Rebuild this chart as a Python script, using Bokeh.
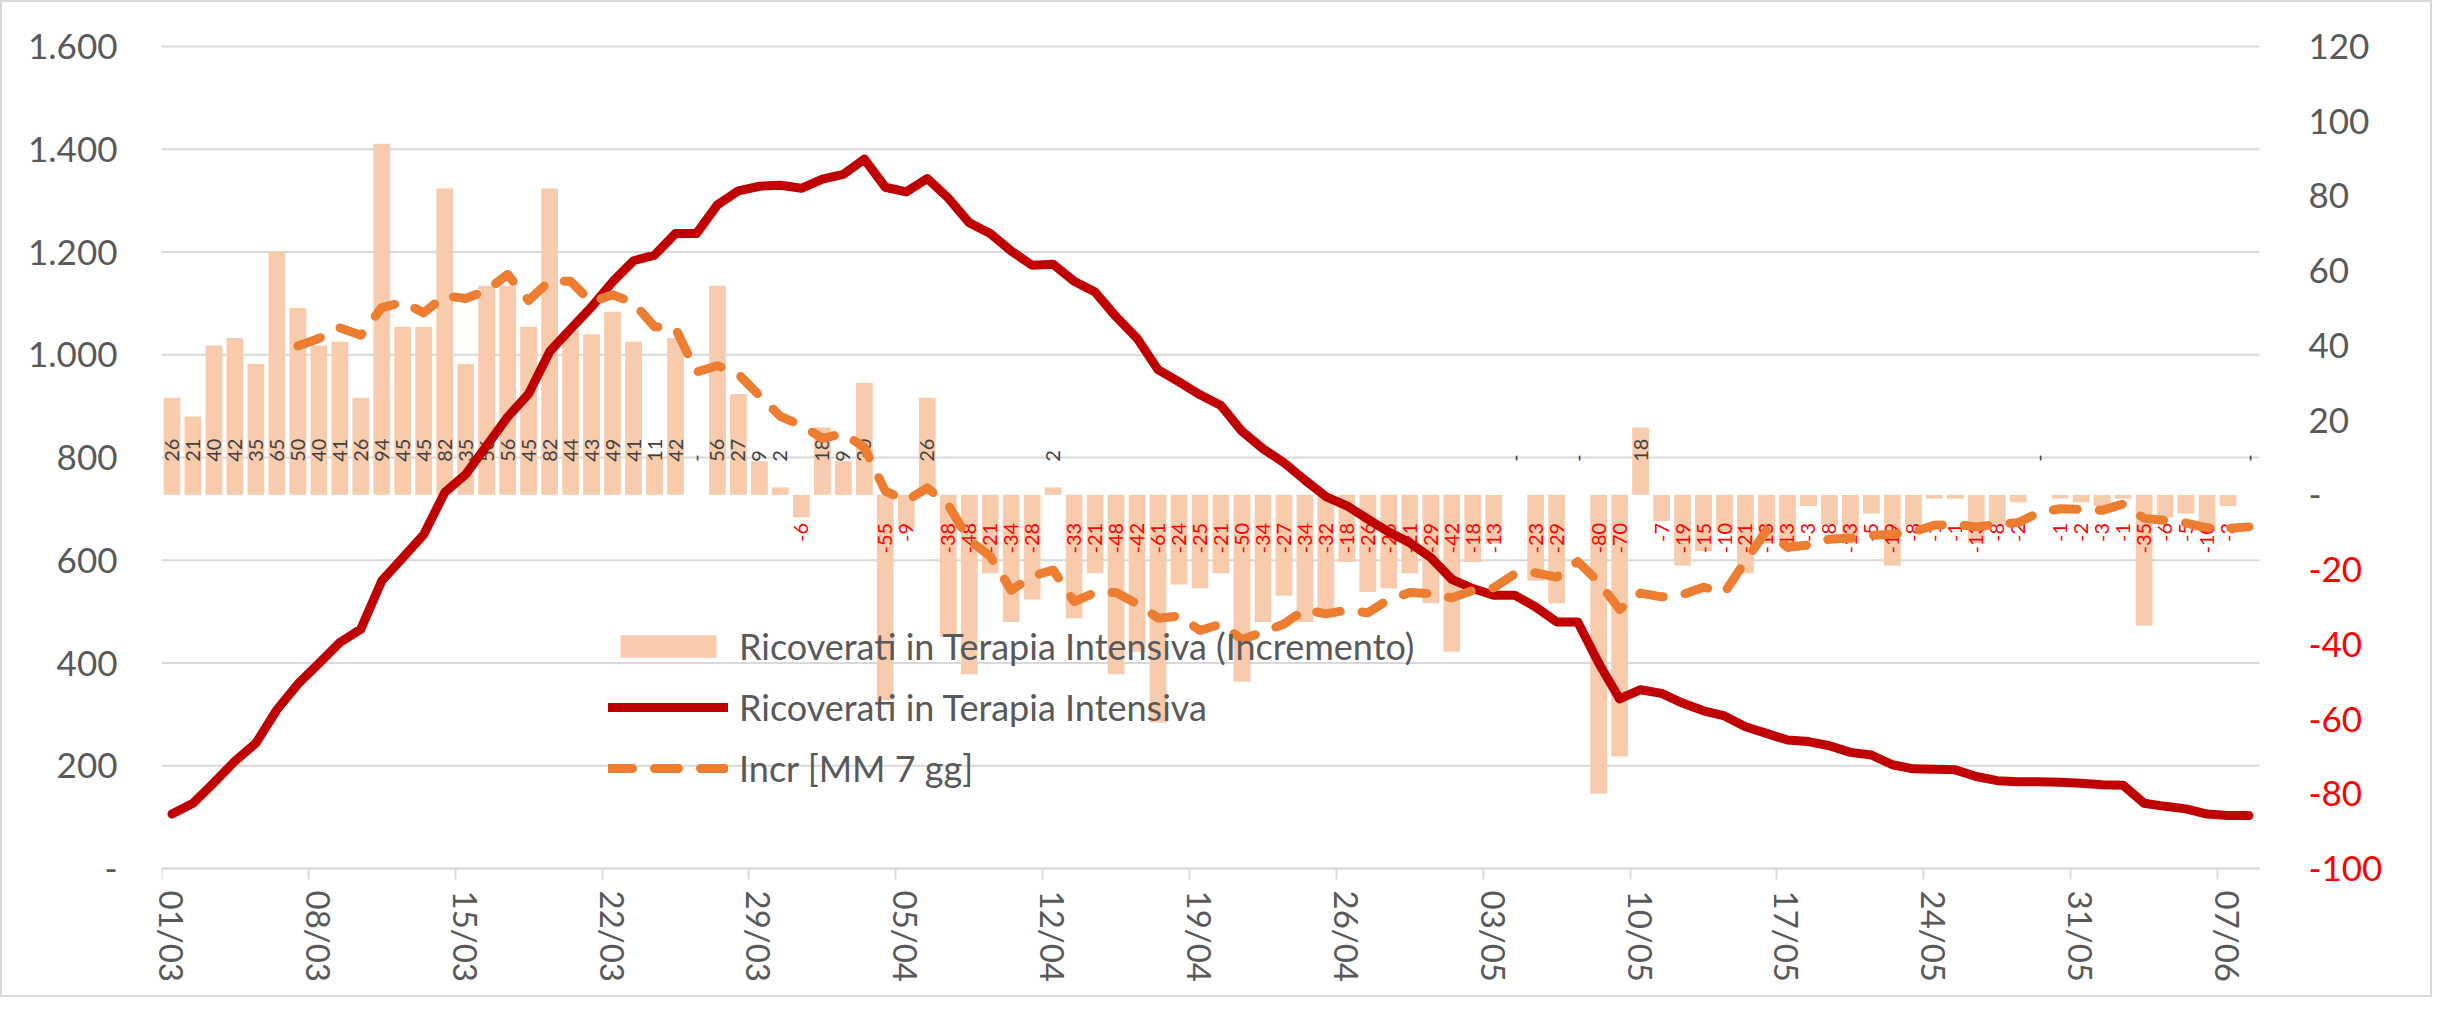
import math
import pandas as pd
from bokeh.plotting import figure
from bokeh.models import (Range1d, LinearAxis, FixedTicker, ColumnDataSource,
                          Legend, LegendItem)
from bokeh.embed import file_html
from bokeh.resources import INLINE
from bokeh.core.properties import value

# ---------------- data ----------------
dates = list(pd.date_range("2020-03-01", periods=100).strftime("%d/%m"))

incremento = [26, 21, 40, 42, 35, 65, 50, 40, 41, 26,
              94, 45, 45, 82, 35, 56, 56, 45, 82, 44,
              43, 49, 41, 11, 42, 0, 56, 27, 9, 2,
              -6, 18, 9, 30, -55, -9, 26, -38, -48, -21,
              -34, -28, 2, -33, -21, -48, -42, -61, -24, -25,
              -21, -50, -34, -27, -34, -32, -18, -26, -25, -21,
              -29, -42, -18, -13, 0, -23, -29, 0, -80, -70,
              18, -7, -19, -15, -10, -21, -13, -13, -3, -8,
              -13, -5, -19, -8, -1, -1, -13, -8, -2, 0,
              -1, -2, -3, -1, -35, -6, -5, -10, -3, 0]

ricoverati = [106, 127, 167, 209, 244, 309, 359, 399, 440, 466,
              560, 605, 650, 732, 767, 823, 879, 924, 1006, 1050,
              1093, 1142, 1183, 1194, 1236, 1236, 1292, 1319, 1328, 1330,
              1324, 1342, 1351, 1381, 1326, 1317, 1343, 1305, 1257, 1236,
              1202, 1174, 1176, 1143, 1122, 1074, 1032, 971, 947, 922,
              901, 851, 817, 790, 756, 724, 706, 680, 655, 634,
              605, 563, 545, 532, 532, 509, 480, 480, 400, 330,
              348, 341, 322, 307, 297, 276, 263, 250, 247, 239,
              226, 221, 202, 194, 193, 192, 179, 171, 169, 169,
              168, 166, 163, 162, 127, 121, 116, 106, 103, 103]

nan = float("nan")
mm7 = [nan, nan, nan, nan, nan, nan,
       39.86, 41.86, 44.71, 42.71, 50.14, 51.57, 48.71, 53.29, 52.57, 54.71,
       59.00, 52.00, 57.29, 57.14, 51.57, 53.57, 51.43, 45.00, 44.57, 32.86,
       34.57, 32.29, 26.57, 21.00, 18.57, 15.14, 16.43, 12.71, 1.00, -1.57,
       1.86, -2.71, -12.14, -16.43, -25.57, -21.71, -20.14, -28.57, -26.14, -26.14,
       -29.14, -33.00, -32.43, -36.29, -34.57, -38.71, -36.71, -34.57, -30.71, -31.86,
       -30.86, -31.57, -28.00, -26.14, -26.43, -27.57, -25.57, -24.86, -21.14, -20.86,
       -22.00, -17.86, -23.29, -30.71, -26.29, -27.29, -26.71, -24.71, -26.14, -17.71,
       -9.57, -14.00, -13.43, -11.86, -11.57, -10.86, -10.57, -9.86, -8.14, -7.86,
       -8.57, -7.86, -7.43, -4.71, -3.71, -3.86, -4.14, -2.43, -6.29, -6.86,
       -7.57, -8.86, -9.00, -8.57]

left_ticks = [0, 200, 400, 600, 800, 1000, 1200, 1400, 1600]
left_tick_labels = ["-", "200", "400", "600", "800", "1.000", "1.200", "1.400", "1.600"]
right_ticks = [-100, -80, -60, -40, -20, 0, 20, 40, 60, 80, 100, 120]
right_tick_labels = ["-100", "-80", "-60", "-40", "-20", "-", "20", "40", "60", "80", "100", "120"]
date_tick_positions = list(range(0, 100, 7))
date_tick_labels = ["01/03", "08/03", "15/03", "22/03", "29/03", "05/04", "12/04", "19/04",
                    "26/04", "03/05", "10/05", "17/05", "24/05", "31/05", "07/06"]

# ---------------- styles / layout ----------------
FONT = "Lato"
GREY_TXT = "#595959"
GRID = "#D9D9D9"
BAR = "#F8CBAD"
RED_LINE = "#C00000"
ORANGE = "#ED7D31"
TICK_SIZE = "35px"

W, H = 2432, 997
B_LEFT, B_RIGHT, B_TOP, B_BOTTOM = 159, 20, 22, 109
PAD = 22                      # px of frame above the top / below the bottom gridline
PX_PER_DAY = 20.98

x = list(range(len(dates)))
x_start = -0.5
x_end_data = len(dates) - 0.5
x_end_view = x_start + (W - B_LEFT - B_RIGHT) / PX_PER_DAY   # room for right-hand labels

inner_h = H - B_TOP - B_BOTTOM - 2 * PAD
y1_lo, y1_hi = left_ticks[0], left_ticks[-1]
y2_lo, y2_hi = right_ticks[0], right_ticks[-1]
pad1 = PAD * (y1_hi - y1_lo) / inner_h
pad2 = PAD * (y2_hi - y2_lo) / inner_h

p = figure(width=W, height=H, output_backend="svg", toolbar_location=None,
           x_range=Range1d(x_start, x_end_view), y_range=Range1d(y1_lo - pad1, y1_hi + pad1),
           x_axis_type=None, y_axis_type=None)
p.extra_y_ranges = {"incr": Range1d(y2_lo - pad2, y2_hi + pad2)}
p.min_border_left = B_LEFT
p.min_border_right = B_RIGHT
p.min_border_top = B_TOP
p.min_border_bottom = B_BOTTOM
p.outline_line_color = None
p.background_fill_color = "white"
p.border_fill_color = "white"
p.styles = {"border": "2px solid #D9D9D9"}

# horizontal gridlines (primary axis ticks), limited to the data area
p.segment(x0=[x_start] * len(left_ticks), x1=[x_end_data] * len(left_ticks),
          y0=left_ticks, y1=left_ticks, line_color=GRID, line_width=2, level="underlay")

# left axis
yaxis = LinearAxis(ticker=FixedTicker(ticks=left_ticks),
                   major_label_overrides=dict(zip(left_ticks, left_tick_labels)))
yaxis.axis_line_color = None
yaxis.major_tick_line_color = None
yaxis.minor_tick_line_color = None
yaxis.major_label_text_font = FONT
yaxis.major_label_text_font_size = TICK_SIZE
yaxis.major_label_text_color = GREY_TXT
yaxis.major_label_standoff = 38
p.add_layout(yaxis, "left")

# x axis: line at zero with tick marks at slot boundaries
tick_axis = LinearAxis(ticker=FixedTicker(ticks=[t - 0.5 for t in date_tick_positions]),
                       major_label_overrides={t - 0.5: "" for t in date_tick_positions},
                       bounds=(x_start, x_end_data), fixed_location=y1_lo)
tick_axis.axis_line_color = GRID
tick_axis.axis_line_width = 2
tick_axis.major_tick_line_color = GRID
tick_axis.major_tick_line_width = 2
tick_axis.major_tick_out = 11
tick_axis.major_tick_in = 0
tick_axis.minor_tick_line_color = None
tick_axis.major_label_text_font_size = "0px"
tick_axis.major_label_standoff = 0
p.add_layout(tick_axis, "below")

# x axis: labels at slot centres
label_axis = LinearAxis(ticker=FixedTicker(ticks=date_tick_positions),
                        major_label_overrides=dict(zip(date_tick_positions, date_tick_labels)))
label_axis.axis_line_color = None
label_axis.major_tick_line_color = None
label_axis.minor_tick_line_color = None
label_axis.major_tick_out = 0
label_axis.major_tick_in = 0
label_axis.major_label_orientation = "vertical"
label_axis.major_label_text_font = FONT
label_axis.major_label_text_font_size = "33px"
label_axis.major_label_text_color = GREY_TXT
label_axis.major_label_standoff = 0
p.add_layout(label_axis, "below")

# bars
bars = p.vbar(x=x, top=incremento, bottom=0, width=0.8, y_range_name="incr",
              fill_color=BAR, line_color=None)

# bar labels
pos_src = ColumnDataSource(dict(
    x=[i for i, v in zip(x, incremento) if v >= 0],
    y=[0 for v in incremento if v >= 0],
    t=[("-" if v == 0 else str(v)) for v in incremento if v >= 0]))
neg_src = ColumnDataSource(dict(
    x=[i for i, v in zip(x, incremento) if v < 0],
    y=[0 for v in incremento if v < 0],
    t=[str(v) for v in incremento if v < 0]))
p.text(x="x", y="y", text="t", source=pos_src, y_range_name="incr", angle=math.pi / 2,
       text_align="left", text_baseline="middle", y_offset=-33,
       text_font=value(FONT), text_font_size="20px", text_color="#404040")
p.text(x="x", y="y", text="t", source=neg_src, y_range_name="incr", angle=math.pi / 2,
       text_align="right", text_baseline="middle", y_offset=28,
       text_font=value(FONT), text_font_size="20px", text_color="#FF0000")

# lines
line = p.line(x=x, y=ricoverati, line_color=RED_LINE, line_width=9,
              line_join="round", line_cap="round")
dash = p.line(x=x, y=mm7, y_range_name="incr", line_color=ORANGE, line_width=9,
              line_dash="24 22", line_join="round", line_cap="round")

# secondary-axis tick labels (grey positives, red negatives)
r_src = ColumnDataSource(dict(
    x=[x_end_data] * len(right_ticks),
    y=right_ticks,
    t=right_tick_labels,
    c=["#FF0000" if v < 0 else GREY_TXT for v in right_ticks]))
p.text(x="x", y="y", text="t", source=r_src, y_range_name="incr", x_offset=49,
       text_align="left", text_baseline="middle", text_color="c",
       text_font=value(FONT), text_font_size=TICK_SIZE)

legend = Legend(items=[
    LegendItem(label="Ricoverati in Terapia Intensiva (Incremento)", renderers=[bars]),
    LegendItem(label="Ricoverati in Terapia Intensiva", renderers=[line]),
    LegendItem(label="Incr [MM 7 gg]", renderers=[dash]),
], location=(447, 78 + PAD))
legend.background_fill_alpha = 0
legend.border_line_color = None
legend.label_text_font = FONT
legend.label_text_font_size = "36px"
legend.label_text_color = GREY_TXT
legend.glyph_width = 120
legend.glyph_height = 28
legend.label_standoff = 11
legend.spacing = 17
legend.padding = 0
legend.margin = 0
p.add_layout(legend)

open("out.html", "w").write(file_html(p, INLINE))
